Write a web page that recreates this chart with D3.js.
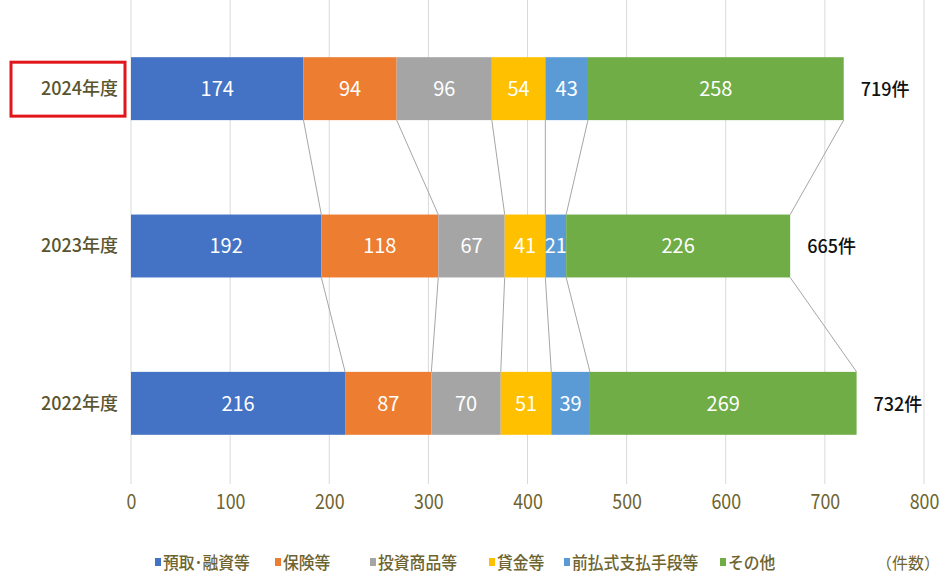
<!DOCTYPE html>
<html>
<head>
<meta charset="utf-8">
<script src="https://cdn.jsdelivr.net/npm/d3@7"></script>
<style>
  body { margin: 0; background: #fff; }
  svg { display: block; font-family: "Noto Sans CJK JP", "Noto Sans", sans-serif; }
</style>
</head>
<body>
<svg id="chart" width="944" height="574"></svg>
<script>
// Consultation counts by category and fiscal year
const years = ["2024年度", "2023年度", "2022年度"];
const categories = ["預取･融資等", "保険等", "投資商品等", "貸金等", "前払式支払手段等", "その他"];
const colors = ["#4472C4", "#ED7D31", "#A5A5A5", "#FFC000", "#5B9BD5", "#70AD47"];
const values = [
  [174, 94, 96, 54, 43, 258],   // 2024年度
  [192, 118, 67, 41, 21, 226],  // 2023年度
  [216, 87, 70, 51, 39, 269]    // 2022年度
];
const totals = [719, 665, 732];
const ticks = [0, 100, 200, 300, 400, 500, 600, 700, 800];

const svg = d3.select("#chart");
const x = d3.scaleLinear().domain([0, 800]).range([131, 924]);
const y = d3.scaleBand().domain(years).range([10, 482]).paddingInner(0.6).paddingOuter(0.3);

const olive = "#6E6430";
const oliveDark = "#5A5530";

// vertical gridlines
svg.append("g").selectAll("line").data(ticks).join("line")
  .attr("x1", d => x(d)).attr("x2", d => x(d))
  .attr("y1", 0).attr("y2", 484)
  .attr("stroke", "#d9d9d9").attr("stroke-width", 1);

// stacked layout
const rows = years.map((yr, i) => {
  let acc = 0;
  return categories.map((c, j) => {
    const s = acc; acc += values[i][j];
    return { year: yr, cat: c, j, v: values[i][j], x0: s, x1: acc };
  });
});

// series connector lines between adjacent bars
const conn = [];
for (let i = 0; i < years.length - 1; i++) {
  rows[i].forEach((seg, j) => {
    conn.push({ a: seg.x1, b: rows[i + 1][j].x1, ya: y(years[i]) + y.bandwidth(), yb: y(years[i + 1]) });
  });
}
svg.append("g").selectAll("line").data(conn).join("line")
  .attr("x1", d => x(d.a)).attr("y1", d => d.ya)
  .attr("x2", d => x(d.b)).attr("y2", d => d.yb)
  .attr("stroke", "#a6a6a6").attr("stroke-width", 1);

// bars
const bars = svg.append("g");
rows.forEach(row => {
  bars.selectAll(null).data(row).join("rect")
    .attr("x", d => x(d.x0)).attr("width", d => x(d.x1) - x(d.x0))
    .attr("y", d => y(d.year)).attr("height", y.bandwidth())
    .attr("fill", d => colors[d.j]);
  bars.selectAll(null).data(row).join("text")
    .attr("x", d => (x(d.x0) + x(d.x1)) / 2)
    .attr("y", d => y(d.year) + y.bandwidth() / 2)
    .attr("dy", "0.36em").attr("text-anchor", "middle")
    .attr("fill", "#fff").attr("font-size", 20)
    .text(d => d.v);
});

// totals
svg.append("g").selectAll("text").data(years).join("text")
  .attr("x", (d, i) => x(totals[i]) + 17)
  .attr("y", d => y(d) + y.bandwidth() / 2 + 1)
  .attr("dy", "0.36em")
  .attr("font-size", 18).attr("font-weight", 500).attr("fill", "#111")
  .text((d, i) => totals[i] + "件");

// year labels
svg.append("g").selectAll("text").data(years).join("text")
  .attr("x", 118).attr("y", d => y(d) + y.bandwidth() / 2)
  .attr("dy", "0.36em").attr("text-anchor", "end")
  .attr("font-size", 18).attr("font-weight", 500).attr("fill", oliveDark)
  .text(d => d);

// highlight box on the latest year
svg.append("rect")
  .attr("x", 11).attr("y", y(years[0]) + 5)
  .attr("width", 114).attr("height", y.bandwidth() - 9)
  .attr("fill", "none").attr("stroke", "#E0161B").attr("stroke-width", 3);

// x axis tick labels
const axis = d3.axisBottom(x).tickValues(ticks).tickSize(0).tickPadding(0);
const ag = svg.append("g").attr("transform", "translate(0,494)").call(axis);
ag.select(".domain").remove();
ag.selectAll("text").attr("font-size", 21).attr("fill", olive)
  .attr("font-family", "\"Noto Sans CJK JP\", sans-serif").attr("dy", "0.71em")
  .attr("transform", "scale(0.85,1)");

// legend
const legendX = [155, 275, 370, 489, 564, 720];
const lg = svg.append("g").attr("transform", "translate(0,563)");
categories.forEach((c, j) => {
  const g = lg.append("g").attr("transform", `translate(${legendX[j]},0)`);
  g.append("rect").attr("x", 0).attr("y", -5).attr("width", 6).attr("height", 8).attr("fill", colors[j]);
  g.append("text").attr("x", 8).attr("dy", "0.36em")
    .attr("font-size", 17).attr("font-weight", 500).attr("fill", olive)
    .attr("transform", "translate(8,0) scale(0.93,1) translate(-8,0)")
    .text(c);
});
lg.append("text").attr("x", 940).attr("dy", "0.36em").attr("text-anchor", "end")
  .attr("font-size", 16).attr("fill", olive).text("（件数）");
</script>
</body>
</html>
